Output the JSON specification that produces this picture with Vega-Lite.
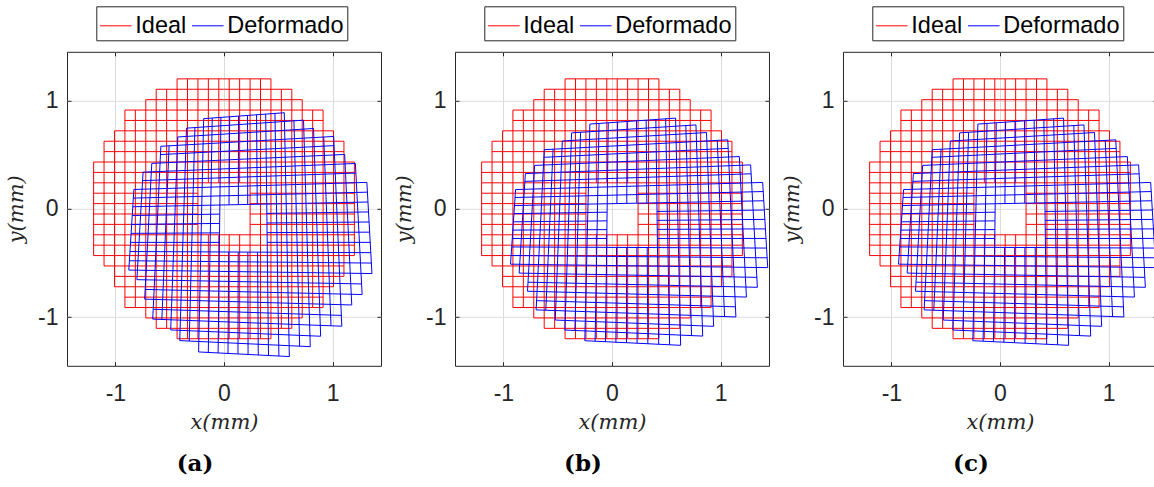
{
  "$schema": "https://vega.github.io/schema/vega-lite/v6.json",
  "padding": {"left": 5, "top": 4.8, "right": 0, "bottom": 5},
  "background": "white",
  "config": {
    "view": {"stroke": "#262626", "strokeWidth": 1},
    "axis": {
      "labelExpr": "toString(datum.value)",
      "domain": false,
      "gridColor": "#dcdcdc",
      "tickColor": "#262626",
      "tickSize": -4,
      "labelFont": "Liberation Sans",
      "labelFontSize": 23,
      "labelColor": "#262626",
      "titleFont": "DejaVu Serif",
      "titleFontStyle": "italic",
      "titleFontWeight": "normal",
      "titleFontSize": 21,
      "titleColor": "#262626"
    },
    "legend": {
      "orient": "none",
      "legendX": 29.3,
      "legendY": -45.5,
      "direction": "horizontal",
      "symbolType": "stroke",
      "symbolSize": 1000,
      "symbolStrokeWidth": 1,
      "labelFont": "Liberation Sans",
      "labelFontSize": 23.5,
      "labelColor": "black",
      "labelOffset": 3,
      "columnPadding": 3,
      "padding": 3,
      "strokeColor": "#262626",
      "fillColor": "white",
      "title": null
    },
    "title": {"font": "DejaVu Serif", "fontWeight": "bold", "fontSize": 23, "color": "black", "orient": "bottom", "anchor": "middle", "dx": -29, "offset": 20.5}
  },
  "datasets": {
    "red": [
      {"s":"Ideal","x":-0.432,"y":1.2,"x2":0.432,"y2":1.2},
      {"s":"Ideal","x":-0.624,"y":1.104,"x2":0.624,"y2":1.104},
      {"s":"Ideal","x":-0.72,"y":1.008,"x2":0.72,"y2":1.008},
      {"s":"Ideal","x":-0.912,"y":0.912,"x2":0.912,"y2":0.912},
      {"s":"Ideal","x":-0.912,"y":0.816,"x2":0.912,"y2":0.816},
      {"s":"Ideal","x":-1.008,"y":0.72,"x2":1.008,"y2":0.72},
      {"s":"Ideal","x":-1.104,"y":0.624,"x2":1.104,"y2":0.624},
      {"s":"Ideal","x":-1.104,"y":0.528,"x2":1.104,"y2":0.528},
      {"s":"Ideal","x":-1.2,"y":0.432,"x2":1.2,"y2":0.432},
      {"s":"Ideal","x":-1.2,"y":0.336,"x2":1.2,"y2":0.336},
      {"s":"Ideal","x":-1.2,"y":0.24,"x2":1.2,"y2":0.24},
      {"s":"Ideal","x":-1.2,"y":0.144,"x2":-0.24,"y2":0.144},
      {"s":"Ideal","x":0.24,"y":0.144,"x2":1.2,"y2":0.144},
      {"s":"Ideal","x":-1.2,"y":0.048,"x2":-0.24,"y2":0.048},
      {"s":"Ideal","x":0.24,"y":0.048,"x2":1.2,"y2":0.048},
      {"s":"Ideal","x":-1.2,"y":-0.048,"x2":-0.24,"y2":-0.048},
      {"s":"Ideal","x":0.24,"y":-0.048,"x2":1.2,"y2":-0.048},
      {"s":"Ideal","x":-1.2,"y":-0.144,"x2":-0.24,"y2":-0.144},
      {"s":"Ideal","x":0.24,"y":-0.144,"x2":1.2,"y2":-0.144},
      {"s":"Ideal","x":-1.2,"y":-0.24,"x2":1.2,"y2":-0.24},
      {"s":"Ideal","x":-1.2,"y":-0.336,"x2":1.2,"y2":-0.336},
      {"s":"Ideal","x":-1.2,"y":-0.432,"x2":1.2,"y2":-0.432},
      {"s":"Ideal","x":-1.104,"y":-0.528,"x2":1.104,"y2":-0.528},
      {"s":"Ideal","x":-1.008,"y":-0.624,"x2":1.104,"y2":-0.624},
      {"s":"Ideal","x":-1.008,"y":-0.72,"x2":1.008,"y2":-0.72},
      {"s":"Ideal","x":-0.912,"y":-0.816,"x2":0.912,"y2":-0.816},
      {"s":"Ideal","x":-0.912,"y":-0.912,"x2":0.912,"y2":-0.912},
      {"s":"Ideal","x":-0.72,"y":-1.008,"x2":0.72,"y2":-1.008},
      {"s":"Ideal","x":-0.624,"y":-1.104,"x2":0.624,"y2":-1.104},
      {"s":"Ideal","x":-0.432,"y":-1.2,"x2":0.432,"y2":-1.2},
      {"s":"Ideal","x":-1.2,"y":0.432,"x2":-1.2,"y2":-0.432},
      {"s":"Ideal","x":-1.104,"y":0.624,"x2":-1.104,"y2":-0.528},
      {"s":"Ideal","x":-1.008,"y":0.72,"x2":-1.008,"y2":-0.72},
      {"s":"Ideal","x":-0.912,"y":0.912,"x2":-0.912,"y2":-0.912},
      {"s":"Ideal","x":-0.816,"y":0.912,"x2":-0.816,"y2":-0.912},
      {"s":"Ideal","x":-0.72,"y":1.008,"x2":-0.72,"y2":-1.008},
      {"s":"Ideal","x":-0.624,"y":1.104,"x2":-0.624,"y2":-1.104},
      {"s":"Ideal","x":-0.528,"y":1.104,"x2":-0.528,"y2":-1.104},
      {"s":"Ideal","x":-0.432,"y":1.2,"x2":-0.432,"y2":-1.2},
      {"s":"Ideal","x":-0.336,"y":1.2,"x2":-0.336,"y2":-1.2},
      {"s":"Ideal","x":-0.24,"y":1.2,"x2":-0.24,"y2":-1.2},
      {"s":"Ideal","x":-0.144,"y":1.2,"x2":-0.144,"y2":0.24},
      {"s":"Ideal","x":-0.144,"y":-0.24,"x2":-0.144,"y2":-1.2},
      {"s":"Ideal","x":-0.048,"y":1.2,"x2":-0.048,"y2":0.24},
      {"s":"Ideal","x":-0.048,"y":-0.24,"x2":-0.048,"y2":-1.2},
      {"s":"Ideal","x":0.048,"y":1.2,"x2":0.048,"y2":0.24},
      {"s":"Ideal","x":0.048,"y":-0.24,"x2":0.048,"y2":-1.2},
      {"s":"Ideal","x":0.144,"y":1.2,"x2":0.144,"y2":0.24},
      {"s":"Ideal","x":0.144,"y":-0.24,"x2":0.144,"y2":-1.2},
      {"s":"Ideal","x":0.24,"y":1.2,"x2":0.24,"y2":-1.2},
      {"s":"Ideal","x":0.336,"y":1.2,"x2":0.336,"y2":-1.2},
      {"s":"Ideal","x":0.432,"y":1.2,"x2":0.432,"y2":-1.2},
      {"s":"Ideal","x":0.528,"y":1.104,"x2":0.528,"y2":-1.104},
      {"s":"Ideal","x":0.624,"y":1.104,"x2":0.624,"y2":-1.104},
      {"s":"Ideal","x":0.72,"y":1.008,"x2":0.72,"y2":-1.008},
      {"s":"Ideal","x":0.816,"y":0.912,"x2":0.816,"y2":-0.912},
      {"s":"Ideal","x":0.912,"y":0.912,"x2":0.912,"y2":-0.912},
      {"s":"Ideal","x":1.008,"y":0.72,"x2":1.008,"y2":-0.72},
      {"s":"Ideal","x":1.104,"y":0.624,"x2":1.104,"y2":-0.624},
      {"s":"Ideal","x":1.2,"y":0.432,"x2":1.2,"y2":-0.432}
    ],
    "blueA": [
      {"s":"Deformado","x":-0.1873,"y":0.8324,"x2":0.5549,"y2":0.8872},
      {"s":"Deformado","x":-0.3454,"y":0.7449,"x2":0.732,"y2":0.8185},
      {"s":"Deformado","x":-0.4253,"y":0.6634,"x2":0.8241,"y2":0.7418},
      {"s":"Deformado","x":-0.5812,"y":0.5773,"x2":1.0094,"y2":0.6683},
      {"s":"Deformado","x":-0.5851,"y":0.5007,"x2":1.0133,"y2":0.5835},
      {"s":"Deformado","x":-0.6648,"y":0.4196,"x2":1.1104,"y2":0.5018},
      {"s":"Deformado","x":-0.7446,"y":0.3382,"x2":1.2092,"y2":0.4184},
      {"s":"Deformado","x":-0.7494,"y":0.2601,"x2":1.214,"y2":0.3303},
      {"s":"Deformado","x":-0.8296,"y":0.1784,"x2":1.315,"y2":0.244},
      {"s":"Deformado","x":-0.8348,"y":0.0989,"x2":1.3202,"y2":0.1537},
      {"s":"Deformado","x":-0.8399,"y":0.0187,"x2":1.3253,"y2":0.0627},
      {"s":"Deformado","x":-0.8451,"y":-0.0623,"x2":-0.0399,"y2":-0.049},
      {"s":"Deformado","x":0.3953,"y":-0.0424,"x2":1.3305,"y2":-0.0291},
      {"s":"Deformado","x":-0.8503,"y":-0.1442,"x2":-0.0409,"y2":-0.1352},
      {"s":"Deformado","x":0.3963,"y":-0.1308,"x2":1.3357,"y2":-0.1218},
      {"s":"Deformado","x":-0.8555,"y":-0.2268,"x2":-0.0419,"y2":-0.2223},
      {"s":"Deformado","x":0.3973,"y":-0.2201,"x2":1.3409,"y2":-0.2156},
      {"s":"Deformado","x":-0.8607,"y":-0.3103,"x2":-0.043,"y2":-0.3101},
      {"s":"Deformado","x":0.3984,"y":-0.3101,"x2":1.3461,"y2":-0.3099},
      {"s":"Deformado","x":-0.8659,"y":-0.3947,"x2":1.3513,"y2":-0.4051},
      {"s":"Deformado","x":-0.871,"y":-0.4799,"x2":1.3564,"y2":-0.5011},
      {"s":"Deformado","x":-0.8762,"y":-0.566,"x2":1.3616,"y2":-0.598},
      {"s":"Deformado","x":-0.8019,"y":-0.6545,"x2":1.2665,"y2":-0.6939},
      {"s":"Deformado","x":-0.7258,"y":-0.7448,"x2":1.2713,"y2":-0.7919},
      {"s":"Deformado","x":-0.7302,"y":-0.8343,"x2":1.1758,"y2":-0.8883},
      {"s":"Deformado","x":-0.652,"y":-0.9275,"x2":1.0802,"y2":-0.9847},
      {"s":"Deformado","x":-0.6559,"y":-1.0189,"x2":1.0841,"y2":-1.0843},
      {"s":"Deformado","x":-0.4906,"y":-1.1189,"x2":0.8894,"y2":-1.1771},
      {"s":"Deformado","x":-0.4074,"y":-1.2173,"x2":0.794,"y2":-1.2733},
      {"s":"Deformado","x":-0.2339,"y":-1.3221,"x2":0.6015,"y2":-1.3647},
      {"s":"Deformado","x":-0.8296,"y":0.1784,"x2":-0.8762,"y2":-0.566},
      {"s":"Deformado","x":-0.7447,"y":0.3382,"x2":-0.8019,"y2":-0.6545},
      {"s":"Deformado","x":-0.6648,"y":0.4194,"x2":-0.7302,"y2":-0.8342},
      {"s":"Deformado","x":-0.5812,"y":0.5773,"x2":-0.656,"y2":-1.0189},
      {"s":"Deformado","x":-0.5052,"y":0.5821,"x2":-0.5722,"y2":-1.0223},
      {"s":"Deformado","x":-0.4253,"y":0.6636,"x2":-0.4907,"y2":-1.119},
      {"s":"Deformado","x":-0.3454,"y":0.7449,"x2":-0.4074,"y2":-1.2173},
      {"s":"Deformado","x":-0.2677,"y":0.7506,"x2":-0.3203,"y2":-1.2216},
      {"s":"Deformado","x":-0.1873,"y":0.8324,"x2":-0.2339,"y2":-1.322},
      {"s":"Deformado","x":-0.1084,"y":0.8384,"x2":-0.1446,"y2":-1.3268},
      {"s":"Deformado","x":-0.0284,"y":0.8445,"x2":-0.0544,"y2":-1.3315},
      {"s":"Deformado","x":0.0523,"y":0.8506,"x2":0.0461,"y2":0.0381},
      {"s":"Deformado","x":0.0429,"y":-0.3993,"x2":0.0367,"y2":-1.3362},
      {"s":"Deformado","x":0.1339,"y":0.8567,"x2":0.1318,"y2":0.0399},
      {"s":"Deformado","x":0.1308,"y":-0.3997,"x2":0.1287,"y2":-1.3409},
      {"s":"Deformado","x":0.2163,"y":0.8629,"x2":0.2184,"y2":0.0416},
      {"s":"Deformado","x":0.2194,"y":-0.4002,"x2":0.2215,"y2":-1.3459},
      {"s":"Deformado","x":0.2997,"y":0.869,"x2":0.3059,"y2":0.0434},
      {"s":"Deformado","x":0.3091,"y":-0.4006,"x2":0.3153,"y2":-1.3506},
      {"s":"Deformado","x":0.3838,"y":0.8751,"x2":0.4098,"y2":-1.3553},
      {"s":"Deformado","x":0.469,"y":0.8812,"x2":0.5052,"y2":-1.36},
      {"s":"Deformado","x":0.5549,"y":0.8872,"x2":0.6015,"y2":-1.3648},
      {"s":"Deformado","x":0.6439,"y":0.8128,"x2":0.6965,"y2":-1.269},
      {"s":"Deformado","x":0.732,"y":0.8184,"x2":0.794,"y2":-1.2732},
      {"s":"Deformado","x":0.8241,"y":0.7417,"x2":0.8895,"y2":-1.1771},
      {"s":"Deformado","x":0.9178,"y":0.6635,"x2":0.9848,"y2":-1.0809},
      {"s":"Deformado","x":1.0094,"y":0.6683,"x2":1.0842,"y2":-1.0843},
      {"s":"Deformado","x":1.1104,"y":0.5019,"x2":1.1758,"y2":-0.8883},
      {"s":"Deformado","x":1.2093,"y":0.4184,"x2":1.2713,"y2":-0.792},
      {"s":"Deformado","x":1.315,"y":0.2439,"x2":1.3616,"y2":-0.5979}
    ],
    "blueB": [
      {"s":"Deformado","x":-0.2036,"y":0.7826,"x2":0.5852,"y2":0.8374},
      {"s":"Deformado","x":-0.3721,"y":0.7012,"x2":0.7727,"y2":0.7748},
      {"s":"Deformado","x":-0.4572,"y":0.6259,"x2":0.87,"y2":0.7043},
      {"s":"Deformado","x":-0.6234,"y":0.5459,"x2":1.0656,"y2":0.6369},
      {"s":"Deformado","x":-0.6273,"y":0.4755,"x2":1.0695,"y2":0.5583},
      {"s":"Deformado","x":-0.7122,"y":0.4005,"x2":1.1718,"y2":0.4827},
      {"s":"Deformado","x":-0.7972,"y":0.3253,"x2":1.2758,"y2":0.4055},
      {"s":"Deformado","x":-0.802,"y":0.2533,"x2":1.2806,"y2":0.3235},
      {"s":"Deformado","x":-0.8874,"y":0.1778,"x2":1.3868,"y2":0.2434},
      {"s":"Deformado","x":-0.8926,"y":0.1044,"x2":1.392,"y2":0.1592},
      {"s":"Deformado","x":-0.8977,"y":0.0303,"x2":1.3971,"y2":0.0743},
      {"s":"Deformado","x":-0.9029,"y":-0.0445,"x2":-0.0459,"y2":-0.0312},
      {"s":"Deformado","x":0.4153,"y":-0.0246,"x2":1.4023,"y2":-0.0113},
      {"s":"Deformado","x":-0.9081,"y":-0.1203,"x2":-0.0469,"y2":-0.1113},
      {"s":"Deformado","x":0.4163,"y":-0.1069,"x2":1.4075,"y2":-0.0979},
      {"s":"Deformado","x":-0.9133,"y":-0.1967,"x2":-0.0479,"y2":-0.1922},
      {"s":"Deformado","x":0.4173,"y":-0.19,"x2":1.4127,"y2":-0.1855},
      {"s":"Deformado","x":-0.9185,"y":-0.2741,"x2":-0.049,"y2":-0.2739},
      {"s":"Deformado","x":0.4184,"y":-0.2739,"x2":1.4179,"y2":-0.2737},
      {"s":"Deformado","x":-0.9237,"y":-0.3523,"x2":1.4231,"y2":-0.3627},
      {"s":"Deformado","x":-0.9288,"y":-0.4314,"x2":1.4282,"y2":-0.4526},
      {"s":"Deformado","x":-0.934,"y":-0.5114,"x2":1.4334,"y2":-0.5434},
      {"s":"Deformado","x":-0.8545,"y":-0.5937,"x2":1.3331,"y2":-0.6331},
      {"s":"Deformado","x":-0.7732,"y":-0.6779,"x2":1.3379,"y2":-0.725},
      {"s":"Deformado","x":-0.7776,"y":-0.7612,"x2":1.2372,"y2":-0.8152},
      {"s":"Deformado","x":-0.6942,"y":-0.8483,"x2":1.1364,"y2":-0.9055},
      {"s":"Deformado","x":-0.6981,"y":-0.9335,"x2":1.1403,"y2":-0.9989},
      {"s":"Deformado","x":-0.5225,"y":-1.0274,"x2":0.9353,"y2":-1.0856},
      {"s":"Deformado","x":-0.4341,"y":-1.1196,"x2":0.8347,"y2":-1.1756},
      {"s":"Deformado","x":-0.2502,"y":-1.2183,"x2":0.6318,"y2":-1.2609},
      {"s":"Deformado","x":-0.8874,"y":0.1778,"x2":-0.934,"y2":-0.5114},
      {"s":"Deformado","x":-0.7973,"y":0.3253,"x2":-0.8545,"y2":-0.5937},
      {"s":"Deformado","x":-0.7122,"y":0.4003,"x2":-0.7776,"y2":-0.7611},
      {"s":"Deformado","x":-0.6234,"y":0.5459,"x2":-0.6982,"y2":-0.9335},
      {"s":"Deformado","x":-0.5423,"y":0.5507,"x2":-0.6093,"y2":-0.9369},
      {"s":"Deformado","x":-0.4572,"y":0.6261,"x2":-0.5226,"y2":-1.0275},
      {"s":"Deformado","x":-0.3721,"y":0.7012,"x2":-0.4341,"y2":-1.1196},
      {"s":"Deformado","x":-0.2892,"y":0.7069,"x2":-0.3418,"y2":-1.1239},
      {"s":"Deformado","x":-0.2036,"y":0.7826,"x2":-0.2502,"y2":-1.2182},
      {"s":"Deformado","x":-0.1195,"y":0.7886,"x2":-0.1557,"y2":-1.223},
      {"s":"Deformado","x":-0.0344,"y":0.7947,"x2":-0.0604,"y2":-1.2277},
      {"s":"Deformado","x":0.0515,"y":0.8008,"x2":0.0453,"y2":0.0497},
      {"s":"Deformado","x":0.0421,"y":-0.3569,"x2":0.0359,"y2":-1.2324},
      {"s":"Deformado","x":0.1383,"y":0.8069,"x2":0.1362,"y2":0.0515},
      {"s":"Deformado","x":0.1352,"y":-0.3573,"x2":0.1331,"y2":-1.2371},
      {"s":"Deformado","x":0.2259,"y":0.8131,"x2":0.228,"y2":0.0532},
      {"s":"Deformado","x":0.229,"y":-0.3578,"x2":0.2311,"y2":-1.2421},
      {"s":"Deformado","x":0.3145,"y":0.8192,"x2":0.3207,"y2":0.055},
      {"s":"Deformado","x":0.3239,"y":-0.3582,"x2":0.3301,"y2":-1.2468},
      {"s":"Deformado","x":0.4038,"y":0.8253,"x2":0.4298,"y2":-1.2515},
      {"s":"Deformado","x":0.4941,"y":0.8314,"x2":0.5303,"y2":-1.2562},
      {"s":"Deformado","x":0.5852,"y":0.8374,"x2":0.6318,"y2":-1.261},
      {"s":"Deformado","x":0.6794,"y":0.7691,"x2":0.732,"y2":-1.1713},
      {"s":"Deformado","x":0.7727,"y":0.7747,"x2":0.8347,"y2":-1.1755},
      {"s":"Deformado","x":0.87,"y":0.7042,"x2":0.9354,"y2":-1.0856},
      {"s":"Deformado","x":0.9689,"y":0.6321,"x2":1.0359,"y2":-0.9955},
      {"s":"Deformado","x":1.0656,"y":0.6369,"x2":1.1404,"y2":-0.9989},
      {"s":"Deformado","x":1.1718,"y":0.4828,"x2":1.2372,"y2":-0.8152},
      {"s":"Deformado","x":1.2759,"y":0.4055,"x2":1.3379,"y2":-0.7251},
      {"s":"Deformado","x":1.3868,"y":0.2433,"x2":1.4334,"y2":-0.5433}
    ]
  },
  "hconcat": [
    {
      "width": 314, "height": 314,
      "title": "(a)",
      "layer": [
        {
          "data": {"name": "red"},
          "mark": {"type": "rule", "strokeWidth": 1, "clip": true},
          "encoding": {
            "x": {"field": "x", "type": "quantitative", "scale": {"domain": [-1.445, 1.445], "nice": false, "zero": false}, "axis": {"values": [-1, 0, 1], "title": "x(mm)", "grid": true, "labelPadding": 20.6, "titlePadding": 6}},
            "y": {"field": "y", "type": "quantitative", "scale": {"domain": [-1.45, 1.45], "nice": false, "zero": false}, "axis": {"values": [-1, 0, 1], "title": "y(mm)", "grid": true, "labelPadding": 13, "titlePadding": 11}},
            "x2": {"field": "x2"},
            "y2": {"field": "y2"},
            "color": {"field": "s", "type": "nominal", "scale": {"domain": ["Ideal", "Deformado"], "range": ["#ff0000", "#0000ff"]}, "legend": {"title": null}}
          }
        },
        {
          "data": {"name": "blueA"},
          "mark": {"type": "rule", "strokeWidth": 1, "clip": true},
          "encoding": {
            "x": {"field": "x", "type": "quantitative", "axis": {"values": [-1, 0, 1], "orient": "top", "labels": false, "title": null, "grid": false}},
            "y": {"field": "y", "type": "quantitative", "axis": {"values": [-1, 0, 1], "orient": "right", "labels": false, "title": null, "grid": false}},
            "x2": {"field": "x2"},
            "y2": {"field": "y2"},
            "color": {"field": "s", "type": "nominal"}
          }
        }
      ],
      "resolve": {"axis": {"x": "independent", "y": "independent"}}
    },
    {
      "width": 314, "height": 314,
      "title": "(b)",
      "layer": [
        {
          "data": {"name": "red"},
          "mark": {"type": "rule", "strokeWidth": 1, "clip": true},
          "encoding": {
            "x": {"field": "x", "type": "quantitative", "scale": {"domain": [-1.445, 1.445], "nice": false, "zero": false}, "axis": {"values": [-1, 0, 1], "title": "x(mm)", "grid": true, "labelPadding": 20.6, "titlePadding": 6}},
            "y": {"field": "y", "type": "quantitative", "scale": {"domain": [-1.45, 1.45], "nice": false, "zero": false}, "axis": {"values": [-1, 0, 1], "title": "y(mm)", "grid": true, "labelPadding": 13, "titlePadding": 11}},
            "x2": {"field": "x2"},
            "y2": {"field": "y2"},
            "color": {"field": "s", "type": "nominal", "scale": {"domain": ["Ideal", "Deformado"], "range": ["#ff0000", "#0000ff"]}, "legend": {"title": null}}
          }
        },
        {
          "data": {"name": "blueB"},
          "mark": {"type": "rule", "strokeWidth": 1, "clip": true},
          "encoding": {
            "x": {"field": "x", "type": "quantitative", "axis": {"values": [-1, 0, 1], "orient": "top", "labels": false, "title": null, "grid": false}},
            "y": {"field": "y", "type": "quantitative", "axis": {"values": [-1, 0, 1], "orient": "right", "labels": false, "title": null, "grid": false}},
            "x2": {"field": "x2"},
            "y2": {"field": "y2"},
            "color": {"field": "s", "type": "nominal"}
          }
        }
      ],
      "resolve": {"axis": {"x": "independent", "y": "independent"}}
    },
    {
      "width": 314, "height": 314,
      "title": "(c)",
      "layer": [
        {
          "data": {"name": "red"},
          "mark": {"type": "rule", "strokeWidth": 1, "clip": true},
          "encoding": {
            "x": {"field": "x", "type": "quantitative", "scale": {"domain": [-1.445, 1.445], "nice": false, "zero": false}, "axis": {"values": [-1, 0, 1], "title": "x(mm)", "grid": true, "labelPadding": 20.6, "titlePadding": 6}},
            "y": {"field": "y", "type": "quantitative", "scale": {"domain": [-1.45, 1.45], "nice": false, "zero": false}, "axis": {"values": [-1, 0, 1], "title": "y(mm)", "grid": true, "labelPadding": 13, "titlePadding": 11}},
            "x2": {"field": "x2"},
            "y2": {"field": "y2"},
            "color": {"field": "s", "type": "nominal", "scale": {"domain": ["Ideal", "Deformado"], "range": ["#ff0000", "#0000ff"]}, "legend": {"title": null}}
          }
        },
        {
          "data": {"name": "blueB"},
          "mark": {"type": "rule", "strokeWidth": 1, "clip": true},
          "encoding": {
            "x": {"field": "x", "type": "quantitative", "axis": {"values": [-1, 0, 1], "orient": "top", "labels": false, "title": null, "grid": false}},
            "y": {"field": "y", "type": "quantitative", "axis": {"values": [-1, 0, 1], "orient": "right", "labels": false, "title": null, "grid": false}},
            "x2": {"field": "x2"},
            "y2": {"field": "y2"},
            "color": {"field": "s", "type": "nominal"}
          }
        }
      ],
      "resolve": {"axis": {"x": "independent", "y": "independent"}}
    }
  ],
  "spacing": 74,
  "bounds": "flush",
  "resolve": {"scale": {"color": "independent"}, "legend": {"color": "independent"}}
}
